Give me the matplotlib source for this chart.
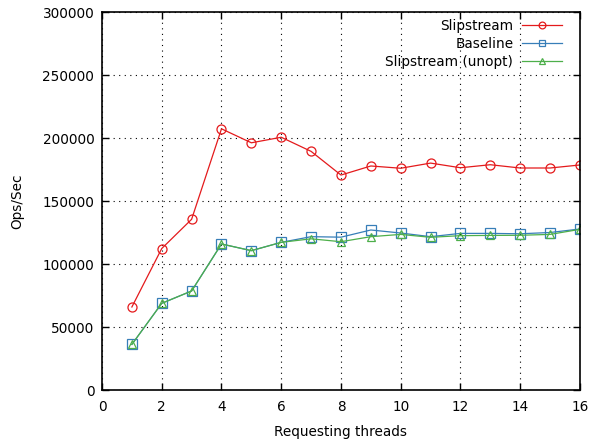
import matplotlib
matplotlib.use("Agg")
import matplotlib.pyplot as plt
from matplotlib.ticker import MultipleLocator, FormatStrFormatter

threads = list(range(1, 17))
slipstream = [65900, 112300, 135500, 207300, 196200, 200600, 189400, 170600,
              177800, 176000, 180100, 176400, 178800, 176200, 176200, 178600]
baseline = [36200, 68800, 78600, 115900, 110600, 117200, 121700, 121300,
            127000, 124600, 121700, 124300, 124300, 124000, 125000, 127800]
unopt = [36200, 68800, 78600, 115900, 110600, 117200, 120000, 117700,
         121700, 123500, 121200, 122500, 122700, 122800, 123500, 127500]

plt.rcParams['font.family'] = 'DejaVu Sans'
plt.rcParams['font.size'] = 9.8

fig = plt.figure(figsize=(5.9, 4.4), dpi=100)
ax = fig.add_axes([0.1729, 0.1136, 0.810, 0.8591])

ax.plot(threads, slipstream, color="#e41a1c", lw=0.9, marker="o", ms=6.5,
        mfc="none", mew=0.9, label="Slipstream")
ax.plot(threads, baseline, color="#377eb8", lw=0.9, marker="s", ms=6.5,
        mfc="none", mew=0.9, label="Baseline")
ax.plot(threads, unopt, color="#4daf4a", lw=0.9, marker="^", ms=5.5,
        mfc="none", mew=0.9, label="Slipstream (unopt)")

ax.set_xlim(0, 16)
ax.set_ylim(0, 300000)
ax.xaxis.set_major_locator(MultipleLocator(2))
ax.yaxis.set_major_locator(MultipleLocator(50000))
ax.yaxis.set_major_formatter(FormatStrFormatter("%d"))
ax.tick_params(direction="in", top=True, right=True, length=5, width=1)
ax.tick_params(axis="x", pad=7)
ax.tick_params(axis="y", pad=5.5)
ax.grid(True, linestyle=(0, (1, 4)), color="black", lw=0.8)
for s in ax.spines.values():
    s.set_linewidth(1.2)

ax.set_xlabel("Requesting threads", labelpad=8)
ax.set_ylabel("Ops/Sec", labelpad=13)
ax.legend(loc="upper right", bbox_to_anchor=(0.969, 0.99), borderaxespad=0,
          frameon=False, markerfirst=False, handlelength=3, borderpad=0.2,
          labelspacing=0.3, handletextpad=0.6, markerscale=0.75)

fig.savefig("out.png", dpi=100)
